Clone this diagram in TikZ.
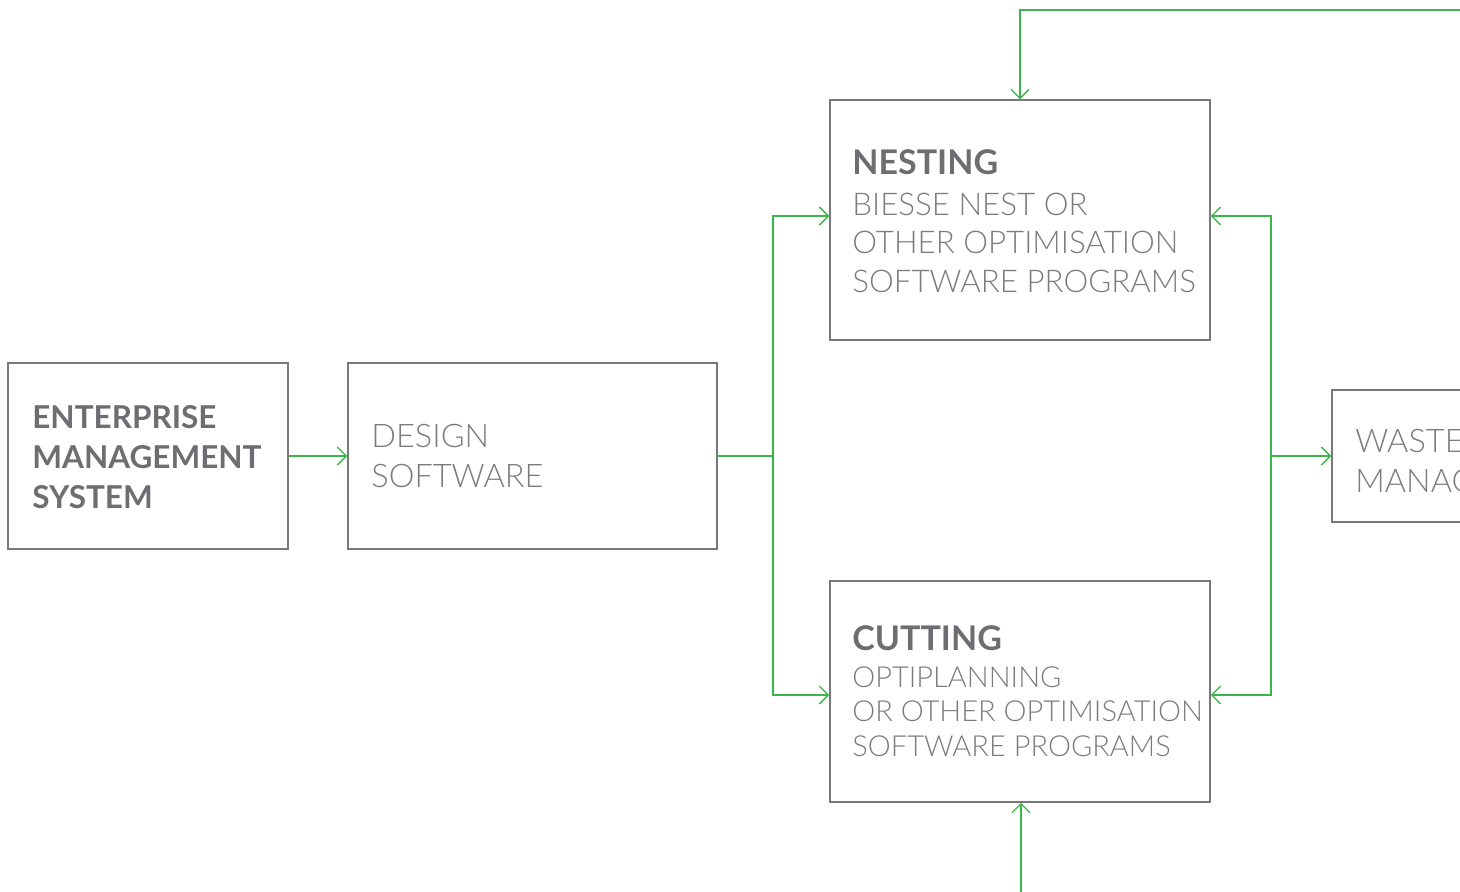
\documentclass[tikz,border=0pt]{standalone}
\usepackage{fontspec}
\setmainfont{Lato}[UprightFont={* Light},BoldFont={* Bold}]
\usetikzlibrary{arrows.meta}
\definecolor{flowgreen}{RGB}{57,181,74}
\definecolor{boxgrey}{RGB}{120,120,122}
\definecolor{textgrey}{RGB}{109,110,113}
\tikzset{every picture/.style={line width=0.75pt}}
\tikzset{
  box/.style={draw=boxgrey, line width=1.5pt, rectangle, inner sep=0pt},
  flow/.style={draw=flowgreen, line width=1.3pt},
  flowarrow/.style={flow, -{Straight Barb[length=9pt,width=18pt,line width=1.3pt]}},
  headtext/.style={anchor=base west, inner sep=0pt, align=left, text=textgrey, font=\bfseries\fontsize{34}{40}\selectfont},
  bodytext/.style={anchor=base west, inner sep=0pt, align=left, text=textgrey!90, font=\fontsize{29}{34.5}\selectfont},
  bigtext/.style={anchor=base west, inner sep=0pt, align=left, text=textgrey!90, font=\fontsize{32.5}{40}\selectfont}
}

\begin{document}
\begin{tikzpicture}[x=1pt,y=-1pt]
\useasboundingbox (0,0) rectangle (1460,892);
\clip (0,0) rectangle (1460,892);

%Boxes
\node [box, minimum width=280pt, minimum height=186pt] (ems) at (148,456) {};
\node [box, minimum width=369pt, minimum height=186pt] (design) at (532.5,456) {};
\node [box, minimum width=380pt, minimum height=240pt] (nest) at (1020,220) {};
\node [box, minimum width=380pt, minimum height=221pt] (cut) at (1020,691.5) {};
\node [box, minimum width=370pt, minimum height=132pt] (waste) at (1517,456) {};

% Text Nodes (base = last line)
\node [headtext, font=\bfseries\fontsize{31.5}{40}\selectfont] (emsText) at (32,508) {ENTERPRISE\\MANAGEMENT\\SYSTEM};
\node [bigtext] (designText) at (371,487) {DESIGN\\SOFTWARE};
\node [headtext] (nestTitle) at (852,174) {NESTING};
\node [bodytext, font=\fontsize{31.3}{38.5}\selectfont] (nestText) at (852,292) {BIESSE NEST OR\\OTHER OPTIMISATION\\SOFTWARE PROGRAMS};
\node [headtext] (cutTitle) at (852,650) {CUTTING};
\node [bodytext] (cutText) at (852,756) {OPTIPLANNING\\OR OTHER OPTIMISATION\\SOFTWARE PROGRAMS};
\node [bigtext] (wasteText) at (1355,492) {WASTE\\MANAGEMENT};

%Joints
\coordinate (split) at (773,456);
\coordinate (merge) at (1271,456);
\coordinate (topIn) at (1462,10);
\coordinate (botIn) at (1021,894);

%Connectors
\draw [flowarrow] (ems.east) -- (design.west);
\draw [flow] (design.east) -- (split);
\draw [flowarrow] (split) |- ([yshift=4pt]nest.west);
\draw [flowarrow] (split) |- ([yshift=-3.5pt]cut.west);
\draw [flowarrow] (merge) |- ([yshift=4pt]nest.east);
\draw [flowarrow] (merge) |- ([yshift=-3.5pt]cut.east);
\draw [flowarrow] (merge) -- (waste.west);
\draw [flowarrow] (topIn) -| (nest.north);
\draw [flowarrow] (botIn) -- (botIn |- cut.south);
\end{tikzpicture}
\end{document}
